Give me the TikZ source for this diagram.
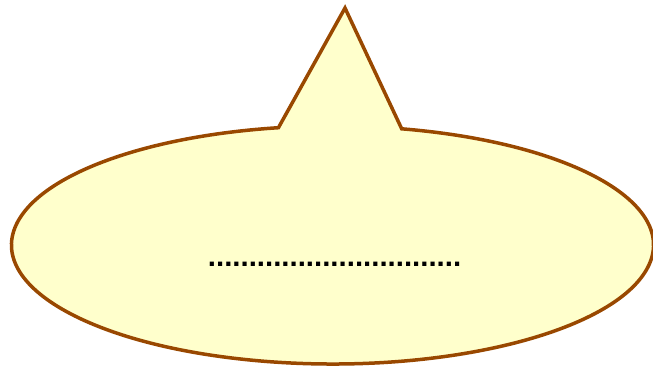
\documentclass[tikz,border=0pt]{standalone}
\usepackage{fontspec}
\setmainfont{Liberation Sans}
\definecolor{calloutfill}{RGB}{255,255,204}
\definecolor{calloutline}{RGB}{153,72,0}
\usetikzlibrary{calc}

\begin{document}
\begin{tikzpicture}[x=1bp,y=1bp,
      bubble/.style={draw=calloutline,fill=calloutfill,line width=3.5bp,line join=miter},
      dots/.style={font=\fontsize{29.5}{30}\selectfont\bfseries,text=black,inner sep=0pt}
    ]
      \useasboundingbox (0,0) rectangle (653,369);
      % callout outline: ellipse with an upward pointer
      \coordinate (tip)   at (345,361);
      \coordinate (centre) at (332.5,124);
      \coordinate (baseR) at ($(centre)+(77.55:321 and 119)$);
      \coordinate (baseL) at ($(centre)+(99.7:321 and 119)$);
      \draw[bubble] (baseL) -- (tip) -- (baseR)
        arc[start angle=77.55,end angle=-260.3,x radius=321,y radius=119] -- cycle;
      % placeholder text
      \node[dots,anchor=base] (label) at (334.5,103) {...............................};
    \end{tikzpicture}
\end{document}
